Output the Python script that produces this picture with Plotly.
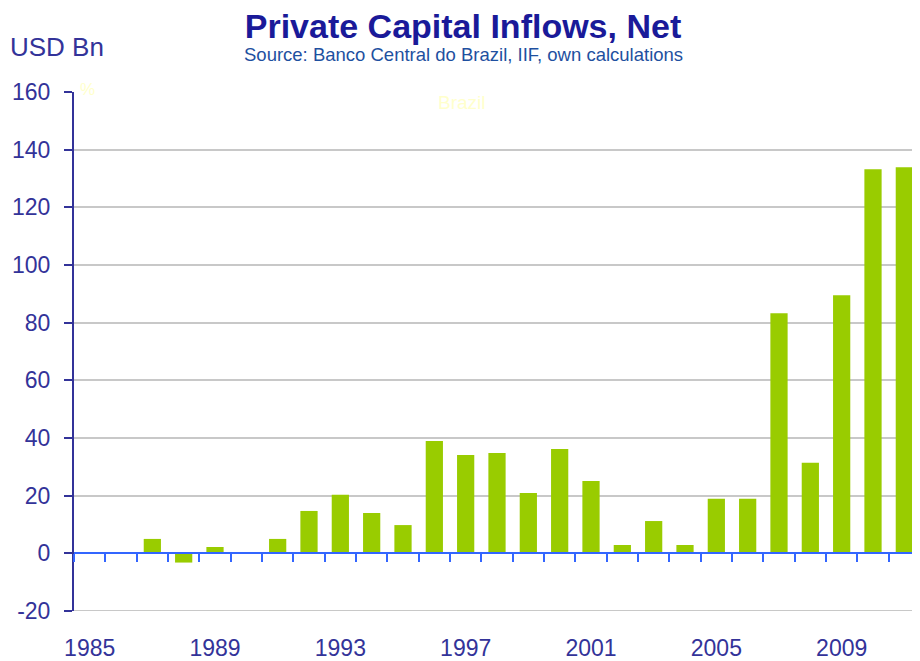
import plotly.graph_objects as go

# Net private capital inflows to Brazil, USD bn
years = list(range(1985, 2012))
inflows = [0, 0, 5.0, -3.2, 2.2, 0, 5.0, 14.7, 20.3, 14.0,
           9.8, 39.0, 34.1, 34.8, 20.9, 36.2, 25.1, 2.9, 11.2, 2.9,
           18.9, 18.9, 83.3, 31.4, 89.5, 133.2, 133.9]
label_years = [1985, 1989, 1993, 1997, 2001, 2005, 2009]
y_ticks = [-20, 0, 20, 40, 60, 80, 100, 120, 140, 160]

FONT = "Arial, Liberation Sans, sans-serif"
AXIS_BLUE = "#333399"
GRID = "#c8c8c8"
PAGE_PAD = 8  # the page body adds an 8px margin around the figure

fig = go.Figure()
fig.add_trace(go.Bar(x=years, y=inflows, marker_color="#99cc00",
                     marker_line_width=0, xaxis="x", yaxis="y"))
# invisible trace so the zero-line axis gets drawn
fig.add_trace(go.Scatter(x=[years[0]], y=[0], mode="markers",
                         marker_opacity=0, xaxis="x2", yaxis="y",
                         hoverinfo="skip", showlegend=False))

fig.update_layout(
    width=920 - PAGE_PAD, height=661 - PAGE_PAD,
    margin=dict(l=74 - PAGE_PAD, r=0, t=92 - PAGE_PAD, b=50),
    paper_bgcolor="white", plot_bgcolor="white",
    showlegend=False, bargap=0.45,
    font=dict(family=FONT, color=AXIS_BLUE),
    title=dict(text="<b>Private Capital Inflows, Net</b>",
               x=(463 - PAGE_PAD) / (920 - PAGE_PAD), xanchor="center",
               xref="container",
               y=1 - (26 - PAGE_PAD) / (661 - PAGE_PAD), yanchor="middle",
               yref="container",
               font=dict(family=FONT, size=34, color="#1a1a99")),
    xaxis=dict(range=[1984.5, 2011.5], tickmode="array",
               tickvals=label_years, ticktext=[str(y) for y in label_years],
               showgrid=False, zeroline=False, showline=False,
               ticks="", ticklabelstandoff=21, automargin=False,
               tickfont=dict(size=23, color=AXIS_BLUE)),
    xaxis2=dict(range=[1984.5, 2011.5], overlaying="x", anchor="free",
                position=1 / 9, side="bottom", showgrid=False,
                zeroline=False, showline=True, linecolor="#3366ff",
                linewidth=2, ticks="outside", tickmode="linear",
                tick0=1984.5, dtick=1, ticklen=8, tickwidth=2,
                tickcolor="#3366ff", showticklabels=False, automargin=False),
    yaxis=dict(range=[-20, 160], tickmode="array", tickvals=y_ticks,
               ticktext=[str(v) for v in y_ticks],
               showgrid=True, gridcolor=GRID, gridwidth=2,
               zeroline=False, showline=True, linecolor=AXIS_BLUE,
               linewidth=2, ticks="outside", ticklen=8, tickwidth=2,
               tickcolor=AXIS_BLUE, ticklabelstandoff=9, automargin=False,
               tickfont=dict(size=23, color=AXIS_BLUE)),
)

# plotly skips the gridline on the bottom edge, so add it back
fig.add_hline(y=y_ticks[0], line_color=GRID, line_width=2, layer="below")

fig.add_annotation(text="Source: Banco Central do Brazil, IIF, own calculations",
                   xref="paper", yref="paper", x=(463 - 74) / 846,
                   y=(611 - 54) / 519, xanchor="center", yanchor="middle",
                   showarrow=False, font=dict(size=18.5, color="#1e50a0"))
fig.add_annotation(text="USD Bn", xref="paper", yref="paper",
                   x=(8 - 74) / 846, y=(611 - 47) / 519,
                   xanchor="left", yanchor="middle", showarrow=False,
                   font=dict(size=26, color=AXIS_BLUE))
fig.add_annotation(text="%", xref="paper", yref="paper",
                   x=(78 - 74) / 846, y=(611 - 90) / 519,
                   xanchor="left", yanchor="middle", showarrow=False,
                   font=dict(size=17, color="#ffffcc"))
fig.add_annotation(text="Brazil", xref="paper", yref="paper",
                   x=(436 - 74) / 846, y=(611 - 103) / 519,
                   xanchor="left", yanchor="middle", showarrow=False,
                   font=dict(size=19, color="#ffffcc"))

fig.write_html("out.html")
